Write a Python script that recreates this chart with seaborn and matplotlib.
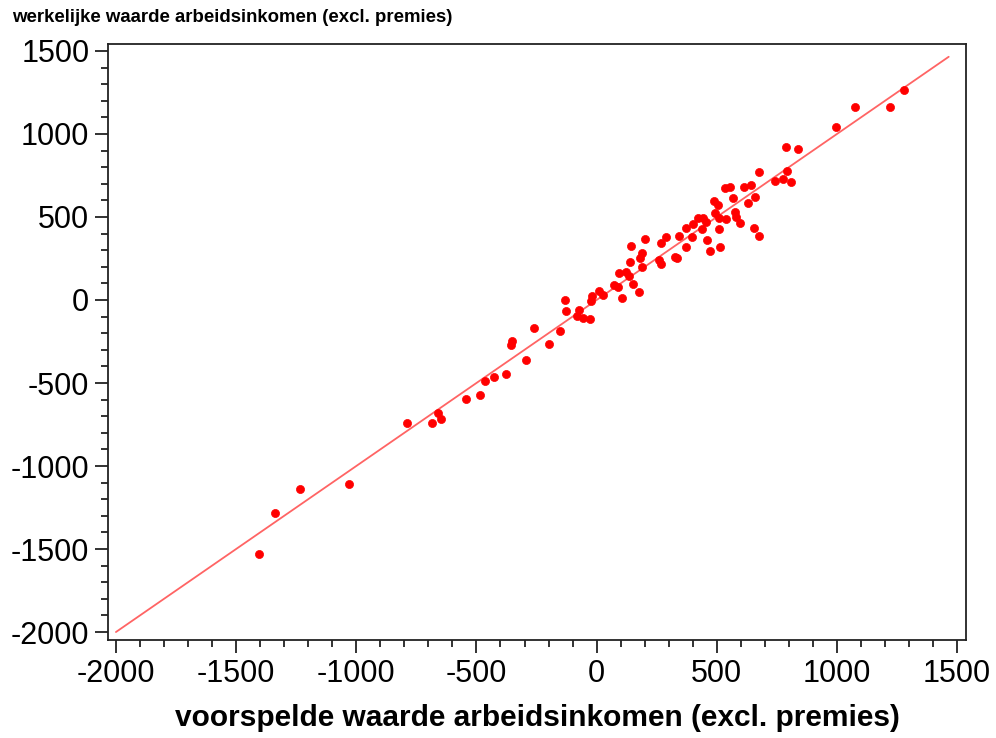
import matplotlib
matplotlib.use("Agg")
import matplotlib.pyplot as plt
import seaborn as sns
import pandas as pd
from matplotlib.ticker import MultipleLocator

predicted = [-1405, -1338, -1234, -1030, -789, -685, -660, -647, -543, -485,
             -464, -427, -377, -352, -356, -294, -260, -198, -152, -131,
             -127, -82, -73, -57, -27, -19, -23, 10, 27, 72,
             89, 106, 93, 122, 135, 139, 143, 151, 176, 181,
             189, 189, 201, 260, 268, 268, 289, 335, 325, 343,
             372, 397, 372, 401, 422, 443, 455, 439, 460, 472,
             514, 489, 505, 493, 509, 539, 509, 576, 580, 597,
             655, 676, 534, 555, 613, 643, 568, 630, 659, 676,
             742, 776, 792, 809, 788, 838, 996, 1075, 1221, 1279]
actual = [-1530, -1283, -1139, -1108, -741, -741, -681, -717, -596, -572,
          -488, -464, -446, -247, -271, -361, -169, -265, -187, 0,
          -66, -96, -60, -108, -114, 24, -6, 54, 30, 90,
          78, 12, 163, 169, 145, 229, 325, 96, 48, 253,
          283, 199, 367, 241, 217, 343, 380, 253, 259, 386,
          434, 380, 319, 458, 494, 494, 470, 428, 361, 295,
          319, 596, 572, 524, 494, 488, 428, 530, 500, 464,
          434, 386, 675, 681, 681, 693, 614, 584, 620, 771,
          717, 729, 777, 711, 922, 910, 1042, 1163, 1163, 1265]

line_x = [-2000, 1465]
line_y = [-2000, 1465]

x_ticks = [-2000, -1500, -1000, -500, 0, 500, 1000, 1500]
y_ticks = [-2000, -1500, -1000, -500, 0, 500, 1000, 1500]

xlabel = "voorspelde waarde arbeidsinkomen (excl. premies)"
ylabel = "werkelijke waarde arbeidsinkomen (excl. premies)"

sns.set_theme(style="white")
plt.rcParams['font.family'] = ['Liberation Sans', 'DejaVu Sans']

df = pd.DataFrame({"x": predicted, "y": actual})
dl = pd.DataFrame({"x": line_x, "y": line_y})

fig = plt.figure(figsize=(9.96, 7.38), dpi=100)
ax = fig.add_axes([108/996, 98/738, 858/996, 596/738])

sns.lineplot(data=dl, x="x", y="y", ax=ax, color="#ff6464", linewidth=1.3, zorder=2)
sns.scatterplot(data=df, x="x", y="y", ax=ax, color="#ff0000", marker="o",
                s=34, edgecolor="#ff0000", linewidth=0.5, zorder=3)

ax.set_xlim(-2033, 1537)
ax.set_ylim(-2048, 1542)
ax.set_xticks(x_ticks)
ax.set_yticks(y_ticks)
ax.set_xticklabels([str(t) for t in x_ticks])
ax.set_yticklabels([str(t) for t in y_ticks])
ax.xaxis.set_minor_locator(MultipleLocator(100))
ax.yaxis.set_minor_locator(MultipleLocator(100))

for s in ax.spines.values():
    s.set_color("#222222")
    s.set_linewidth(1.3)

ax.tick_params(axis="both", which="major", direction="out", length=9.5, width=1.3,
               color="#222222", labelsize=22, pad=4, labelcolor="black",
               bottom=True, left=True, top=False, right=False)
ax.tick_params(axis="both", which="minor", direction="out", length=5, width=1.3,
               color="#222222", bottom=True, left=True, top=False, right=False)

ax.set_xlabel(xlabel, fontsize=21.5, fontweight="bold", labelpad=11, color="black")
ax.set_ylabel("")
fig.text(12/996, 1 - 18/738, ylabel, fontsize=13.4, fontweight="bold",
         ha="left", va="center", color="black")

fig.savefig("out.png", dpi=100, facecolor="white")
